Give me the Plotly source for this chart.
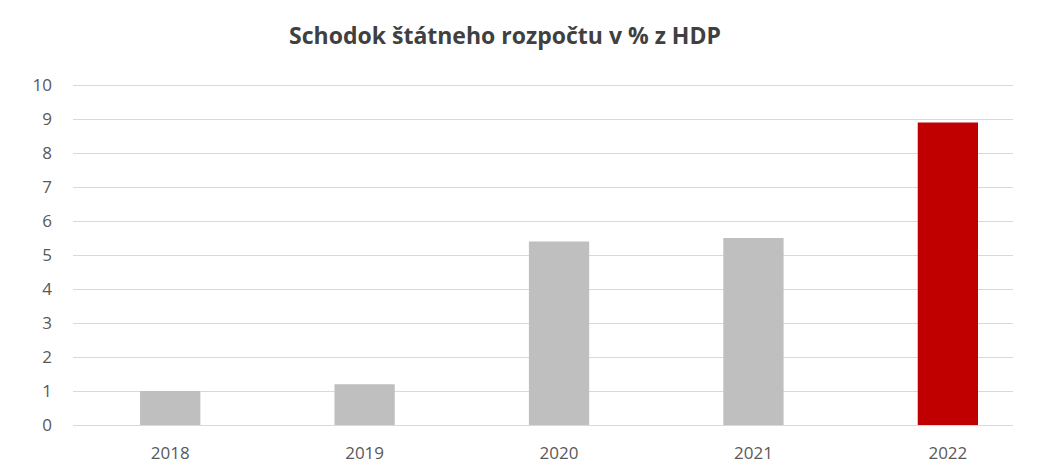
import plotly.graph_objects as go

roky = ['2018', '2019', '2020', '2021', '2022']
schodok = [1.0, 1.2, 5.4, 5.5, 8.9]
farby = ['#BFBFBF', '#BFBFBF', '#BFBFBF', '#BFBFBF', '#C00000']
y_ticks = list(range(0, 11))

fig = go.Figure()
fig.add_trace(go.Bar(x=roky, y=schodok, marker_color=farby, width=0.31,
                     marker_line_width=0, hoverinfo='x+y'))

fig.update_layout(
    width=1052, height=465,
    margin=dict(l=73, r=39, t=84, b=40, autoexpand=False),
    paper_bgcolor='white', plot_bgcolor='white',
    font=dict(family='Open Sans', color='#595959', size=17),
    title=dict(text='<b>Schodok štátneho rozpočtu v % z HDP</b>',
               x=505 / 1052, xanchor='center', y=1 - 36 / 465, yanchor='middle',
               font=dict(family='Open Sans', size=23, color='#404040')),
    showlegend=False,
    bargap=0.69,
)
fig.update_xaxes(type='category', range=[-0.5, 4.335], showgrid=False, automargin=False,
                 showline=False, ticks='', ticklabelstandoff=16, tickfont=dict(size=17))
fig.update_yaxes(range=[0, 10.03], tickvals=y_ticks, showgrid=True, gridcolor='#D9D9D9',
                 gridwidth=1, zeroline=True, zerolinecolor='#D9D9D9', zerolinewidth=1,
                 automargin=False, ticks='', ticklabelstandoff=20, tickfont=dict(size=17))

fig.write_html("out.html", config={'displayModeBar': False},
               post_script="document.body.style.margin='0';")
